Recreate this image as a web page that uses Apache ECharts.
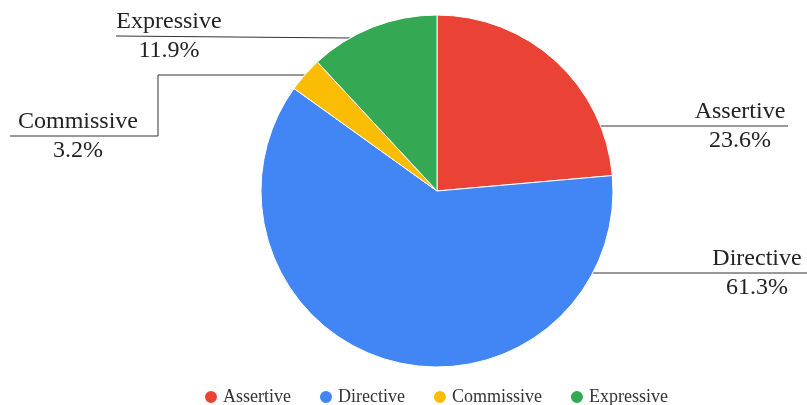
<!DOCTYPE html>
<html>
<head>
<meta charset="utf-8">
<script src="https://cdn.jsdelivr.net/npm/echarts@6/dist/echarts.min.js"></script>
<style>
  html, body { margin: 0; padding: 0; background: #fff; }
  #chart { width: 807px; height: 405px; }
</style>
</head>
<body>
<div id="chart"></div>
<script>
const categories = ['Assertive', 'Directive', 'Commissive', 'Expressive']
const shares = [23.6, 61.3, 3.2, 11.9]
const colors = ['#EA4335', '#4285F4', '#FBBC04', '#34A853']

const serif = "'Liberation Serif', 'Times New Roman', serif"

// pie geometry, also used to put the leader lines on the circle edge
const CX = 437
const CY = 191
const R = 176

// where each label sits: text centre x, leader y, far end of the line
const labelSpots = [
  { x: 740, y: 126, end: 788 },
  { x: 757, y: 273, end: 807 },
  { x: 78, y: 136, end: 10, knee: 158, kneeY: 75 },
  { x: 169, y: 36, end: 116, startY: 38 }
]

const edgeX = (y, side) => CX + side * Math.sqrt(R * R - (y - CY) * (y - CY))

const chart = echarts.init(document.getElementById('chart'))

chart.setOption({
  color: colors,
  legend: {
    data: categories,
    top: 383,
    left: 198,
    icon: 'circle',
    itemWidth: 14,
    itemHeight: 14,
    itemGap: 27,
    textStyle: { fontFamily: serif, fontSize: 18, color: '#333' }
  },
  series: [
    {
      type: 'pie',
      center: [CX, CY],
      radius: R,
      startAngle: 90,
      clockwise: true,
      animation: false,
      itemStyle: { borderColor: '#fff', borderWidth: 1 },
      label: {
        formatter: (p) => p.name + '\n' + p.value.toFixed(1) + '%',
        fontFamily: serif,
        fontSize: 24,
        lineHeight: 29,
        color: '#222'
      },
      labelLine: { show: true, lineStyle: { color: '#333', width: 1 } },
      labelLayout: (params) => {
        const s = labelSpots[params.dataIndex]
        const side = s.end > CX ? 1 : -1
        let pts
        if (s.knee) {
          pts = [[edgeX(s.kneeY, side), s.kneeY], [s.knee, s.kneeY], [s.knee, s.y], [s.end, s.y]]
        } else {
          const y0 = s.startY || s.y
          pts = [[edgeX(y0, side), y0], [s.end, s.y]]
        }
        return {
          x: s.x,
          y: s.y,
          align: 'center',
          verticalAlign: 'middle',
          labelLinePoints: pts
        }
      },
      data: categories.map((name, i) => ({ name, value: shares[i] }))
    }
  ]
})
</script>
</body>
</html>
